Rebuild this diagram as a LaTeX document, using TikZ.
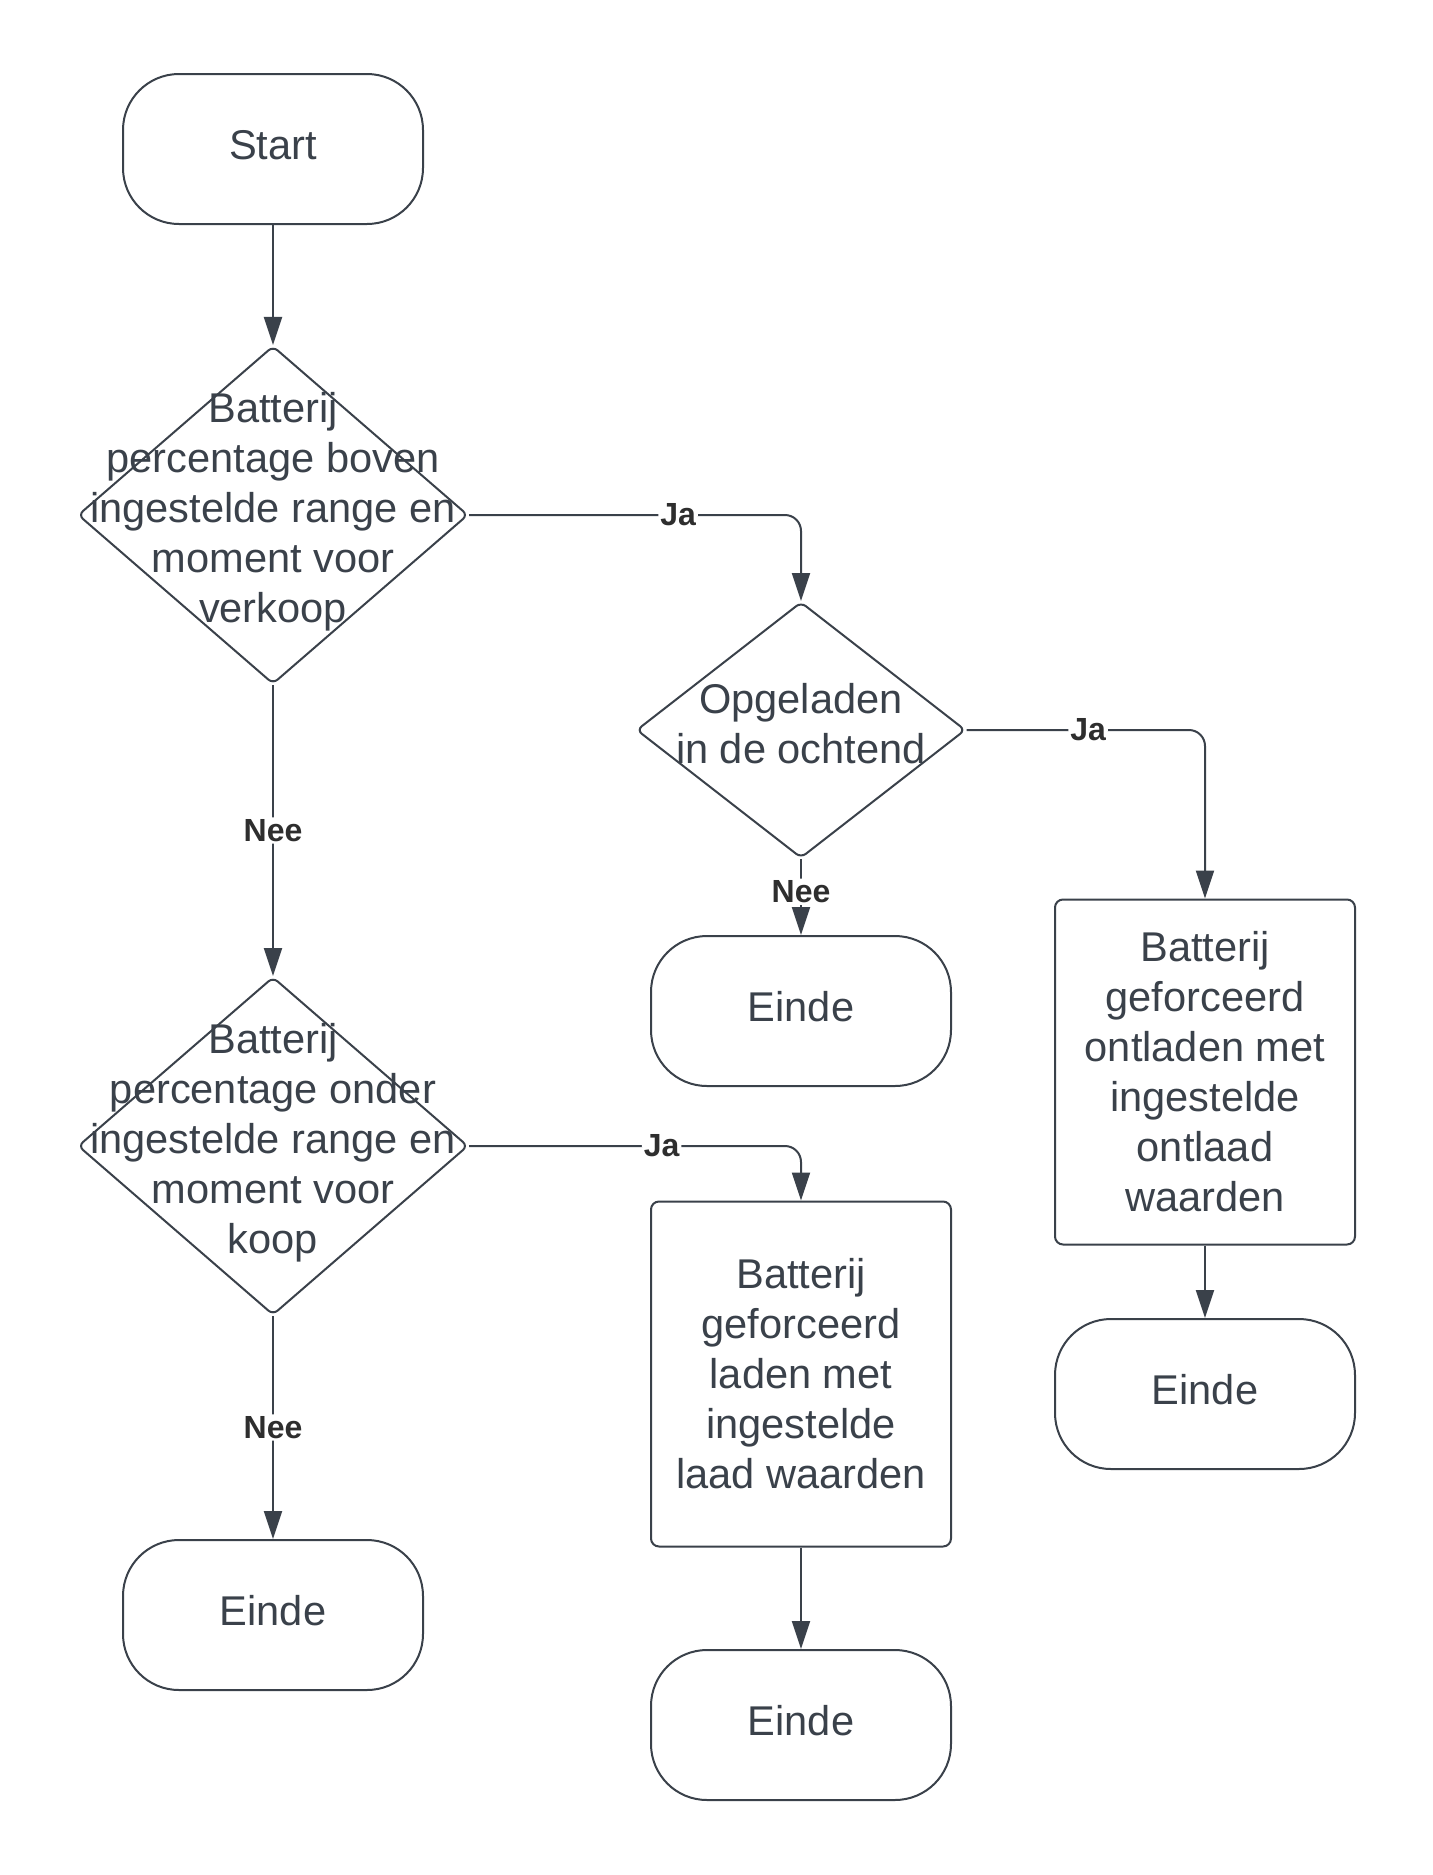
\documentclass[tikz,border=0pt]{standalone}
\usepackage{fontspec}
\setmainfont{Liberation Sans}
\usetikzlibrary{shapes.geometric,arrows.meta}
\definecolor{lineclr}{HTML}{3A414A}
\definecolor{labelclr}{HTML}{2E2E2E}
\tikzstyle{txt} = [align=center,text=lineclr,font=\fontsize{20.8pt}{25pt}\selectfont]
\tikzstyle{terminal} = [txt,rectangle,rounded corners=28pt,draw=lineclr,line width=1pt,minimum width=150pt,minimum height=75pt,text height=15pt,text depth=5pt]
\tikzstyle{decision} = [diamond,draw=lineclr,line width=1pt,rounded corners=3pt,minimum width=195pt,minimum height=169pt,inner sep=0pt]
\tikzstyle{action} = [txt,rectangle,rounded corners=4pt,draw=lineclr,line width=1pt,minimum width=150pt,minimum height=172.5pt]
\tikzstyle{answer} = [fill=white,inner sep=1pt,text=labelclr,font=\fontsize{16pt}{19pt}\selectfont\bfseries]
\tikzstyle{flow} = [-{Triangle[length=14pt,width=9pt]},draw=lineclr,line width=1pt,rounded corners=8pt]

\begin{document}
\begin{tikzpicture}[x=0.5pt,y=-0.5pt]
	\useasboundingbox (0,0) rectangle (1433,1875);
	% left column
	\node[terminal] (start) at (273,149) {Start};
	\node[decision] (sell) at (273,515) {};
	\node[txt] (sellText) at (273,512) {Batterij\\percentage boven\\ingestelde range en\\moment voor\\verkoop};
	\node[decision] (buy) at (273,1146) {};
	\node[txt] (buyText) at (273,1143) {Batterij\\percentage onder\\ingestelde range en\\moment voor\\koop};
	\node[terminal] (endBuy) at (273,1615) {Einde};
	% middle column
	\node[decision,minimum width=164.5pt,minimum height=128pt] (morning) at (801,730) {};
	\node[txt] (morningText) at (801,724) {Opgeladen\\in de ochtend};
	\node[terminal] (endMorning) at (801,1011) {Einde};
	\node[action] (charge) at (801,1374) {Batterij\\geforceerd\\laden met\\ingestelde\\laad waarden};
	\node[terminal] (endCharge) at (801,1725) {Einde};
	% right column
	\node[action] (discharge) at (1205,1072) {Batterij\\geforceerd\\ontladen met\\ingestelde\\ontlaad\\waarden};
	\node[terminal] (endDischarge) at (1205,1394) {Einde};

	\draw[flow] (start) -- (sell);
	\draw[flow] (sell.east) -| node[answer,pos=0.315] {Ja} (morning.north);
	\draw[flow] (sell.south) -- node[answer] {Nee} (buy.north);
	\draw[flow] (morning.east) -| node[answer,pos=0.255] {Ja} (discharge.north);
	\draw[flow] (morning.south) -- node[answer,pos=0.43] {Nee} (endMorning.north);
	\draw[flow] (discharge) -- (endDischarge);
	\draw[flow] (buy.east) -| node[answer,pos=0.29] {Ja} (charge.north);
	\draw[flow] (buy.south) -- node[answer] {Nee} (endBuy.north);
	\draw[flow] (charge) -- (endCharge);
\end{tikzpicture}
\end{document}
